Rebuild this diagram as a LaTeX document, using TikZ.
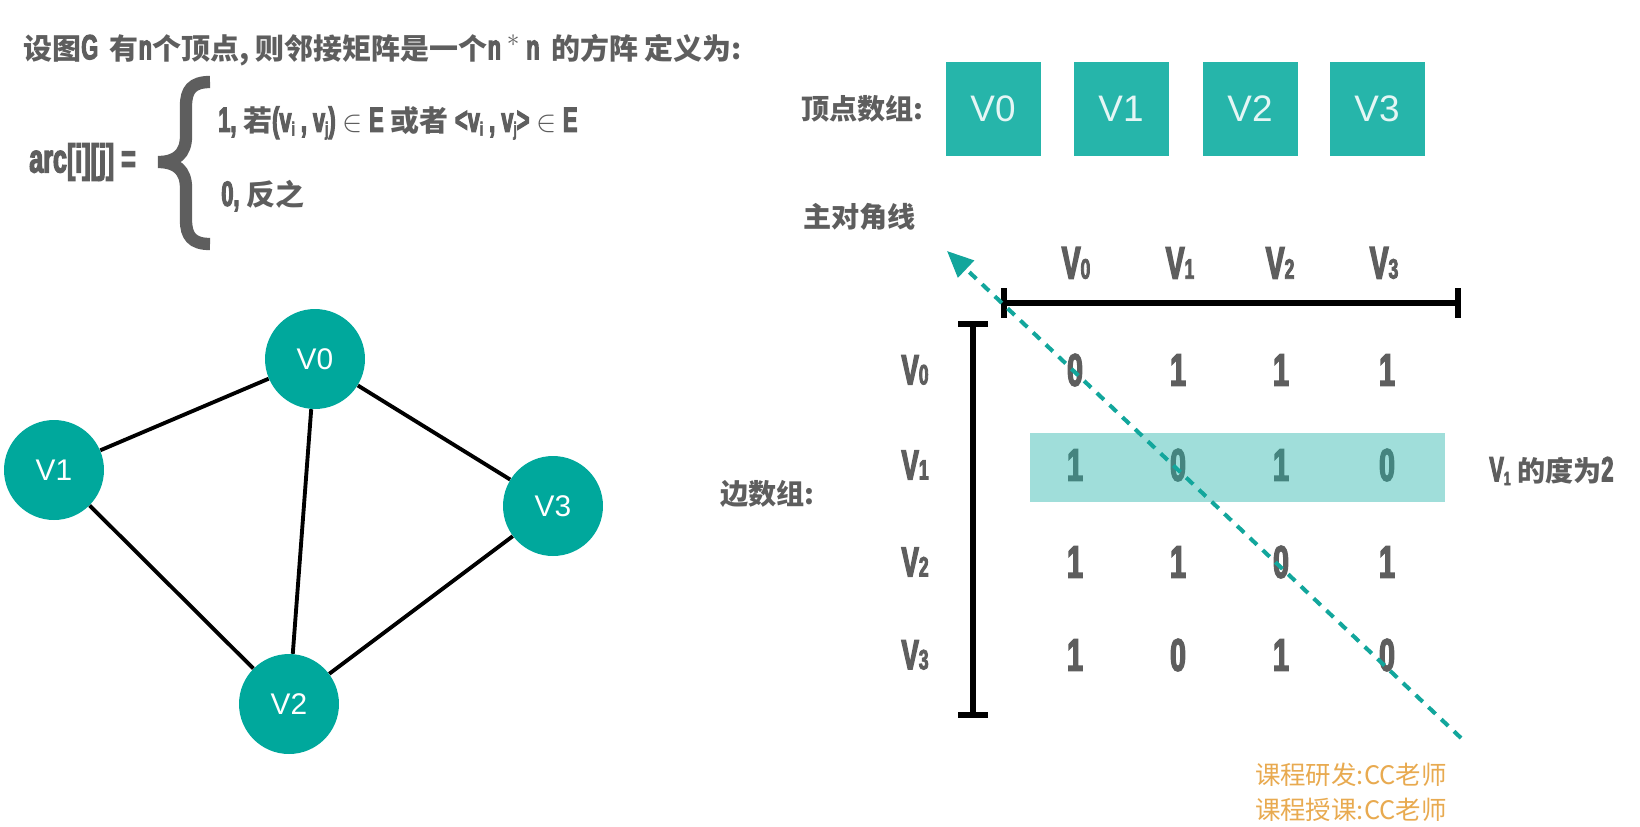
\documentclass[tikz,border=0pt]{standalone}
\usepackage{fontspec}
\setmainfont{Noto Sans CJK SC}
\newfontfamily\condf{Liberation Sans Bold}[FakeStretch=0.62, FakeBold=3]
\newfontfamily\arialf{Liberation Sans}
\usetikzlibrary{arrows.meta}
\definecolor{TextGray}{RGB}{94,94,94}
\definecolor{NodeTeal}{RGB}{0,168,156}
\definecolor{BoxTeal}{RGB}{38,181,170}
\definecolor{LineTeal}{RGB}{18,166,156}
\definecolor{NoteOrange}{RGB}{232,170,80}
\newcommand{\vs}[1]{V{\fontsize{16}{16}\selectfont #1}}
\newcommand{\lo}[1]{\raisebox{-0.2ex}{\fontsize{11}{11}\selectfont #1}}
\newcommand{\lt}[1]{{\condf\fontsize{20}{20}\selectfont #1}}

\begin{document}
\begin{tikzpicture}[x=0.02cm, y=-0.02cm,
    vert/.style={circle, fill=NodeTeal, minimum size=2cm, inner sep=0pt, text=white, font=\arialf\fontsize{17}{17}\selectfont},
    vbox/.style={rectangle, fill=BoxTeal, minimum width=1.9cm, minimum height=1.88cm, inner sep=0pt, text=white!88!BoxTeal, font=\arialf\fontsize{21}{21}\selectfont},
    lbl/.style={text=TextGray, font=\bfseries\fontsize{16}{18}\selectfont, inner sep=0pt, anchor=west},
    hdr/.style={text=TextGray, font=\condf\fontsize{26}{26}\selectfont, inner sep=0pt},
    cell/.style={text=TextGray, font=\condf\fontsize{26}{26}\selectfont, inner sep=0pt},
    note/.style={text=NoteOrange, font=\fontsize{14.5}{16}\selectfont, inner sep=0pt, anchor=east},
    edge/.style={line width=2.2pt, black},
    bar/.style={line width=3.4pt, black, {Bar[width=17pt]}-{Bar[width=17pt]}},
    diag/.style={LineTeal, line width=2.3pt, dash pattern=on 5.5pt off 4.5pt, -{Triangle[length=15pt,width=13pt]}}]
    \useasboundingbox (0,0) rectangle (1640,826);
    % Definition
    \node[lbl, font=\bfseries\fontsize{16.5}{18}\selectfont] (title) at (23,50)
        {设图\lt{G}\, 有\lt{n}个顶点, 则邻接矩阵是一个\lt{n\,$^*$\,n}\, 的方阵 定义为:};
    \node[lbl, font=\condf\fontsize{23}{23}\selectfont] (arc) at (29,162) {arc[i][j] =};
    \draw[TextGray, line width=7pt] (210,82) .. controls (192,82) and (186,90) .. (186,106) -- (186,136)
        .. controls (186,154) and (176,162) .. (158,162) .. controls (176,162) and (186,170) .. (186,188)
        -- (186,220) .. controls (186,236) and (192,244) .. (210,244);
    \node[lbl, font=\bfseries\fontsize{16.5}{18}\selectfont] (case1) at (218,123)
        {\lt{1,} 若\lt{(v\lo{i} , v\lo{j})} $\in$ \lt{E} 或者 \lt{<v\lo{i} , v\lo{j}>} $\in$ \lt{E}};
    \node[lbl, font=\bfseries\fontsize{16.5}{18}\selectfont] (case2) at (221,196) {\lt{0,} 反之};

    % Graph
    \node[vert] (v0) at (315,359) {V0};
    \node[vert] (v1) at (54,470) {V1};
    \node[vert] (v3) at (553,506) {V3};
    \node[vert] (v2) at (289,704) {V2};
    \draw[edge] (v0) -- (v1);
    \draw[edge] (v0) -- (v3);
    \draw[edge] (v0) -- (v2);
    \draw[edge] (v1) -- (v2);
    \draw[edge] (v3) -- (v2);

    % Vertex array
    \node[lbl] (vlbl) at (801,109) {顶点数组:};
    \node[vbox] (b0) at (993,109) {V0};
    \node[vbox] (b1) at (1121,109) {V1};
    \node[vbox] (b2) at (1250,109) {V2};
    \node[vbox] (b3) at (1377,109) {V3};

    % Edge array
    \node[lbl] (dlbl) at (803,217) {主对角线};
    \node[lbl] (elbl) at (720,494) {边数组:};

    \node[hdr] (c0) at (1076,263) {\vs{0}};
    \node[hdr] (c1) at (1180,263) {\vs{1}};
    \node[hdr] (c2) at (1280,263) {\vs{2}};
    \node[hdr] (c3) at (1384,263) {\vs{3}};
    \coordinate (hL) at (1001,303);
    \coordinate (hR) at (1461,303);
    \draw[bar] (hL) -- (hR);

    \node[hdr, font=\condf\fontsize{24}{24}\selectfont] (r0) at (915,370) {\vs{0}};
    \node[hdr, font=\condf\fontsize{24}{24}\selectfont] (r1) at (915,465) {\vs{1}};
    \node[hdr, font=\condf\fontsize{24}{24}\selectfont] (r2) at (915,562) {\vs{2}};
    \node[hdr, font=\condf\fontsize{24}{24}\selectfont] (r3) at (915,655) {\vs{3}};
    \coordinate (vT) at (973,321);
    \coordinate (vB) at (973,718);
    \draw[bar] (vT) -- (vB);

    \node[cell] (m00) at (1075,370) {0}; \node[cell] (m01) at (1178,370) {1}; \node[cell] (m02) at (1281,370) {1}; \node[cell] (m03) at (1387,370) {1};
    \node[cell] (m10) at (1075,465) {1}; \node[cell] (m11) at (1178,465) {0}; \node[cell] (m12) at (1281,465) {1}; \node[cell] (m13) at (1387,465) {0};
    \node[cell] (m20) at (1075,562) {1}; \node[cell] (m21) at (1178,562) {1}; \node[cell] (m22) at (1281,562) {0}; \node[cell] (m23) at (1387,562) {1};
    \node[cell] (m30) at (1075,655) {1}; \node[cell] (m31) at (1178,655) {0}; \node[cell] (m32) at (1281,655) {1}; \node[cell] (m33) at (1387,655) {0};

    % Row V1 highlighted
    \fill[BoxTeal, fill opacity=0.44] (1030,433) rectangle (1445,502);
    \node[lbl] (deg) at (1489,471) {{\condf\fontsize{20}{20}\selectfont V\lo{1}} 的度为{\condf\fontsize{20}{20}\selectfont 2}};

    % Main diagonal
    \coordinate (dtail) at (1461,738);
    \coordinate (dhead) at (947,251);
    \draw[diag] (dtail) -- (dhead);

    \node[note] (n1) at (1447,775) {课程研发:CC老师};
    \node[note] (n2) at (1447,810) {课程授课:CC老师};
\end{tikzpicture}
\end{document}
